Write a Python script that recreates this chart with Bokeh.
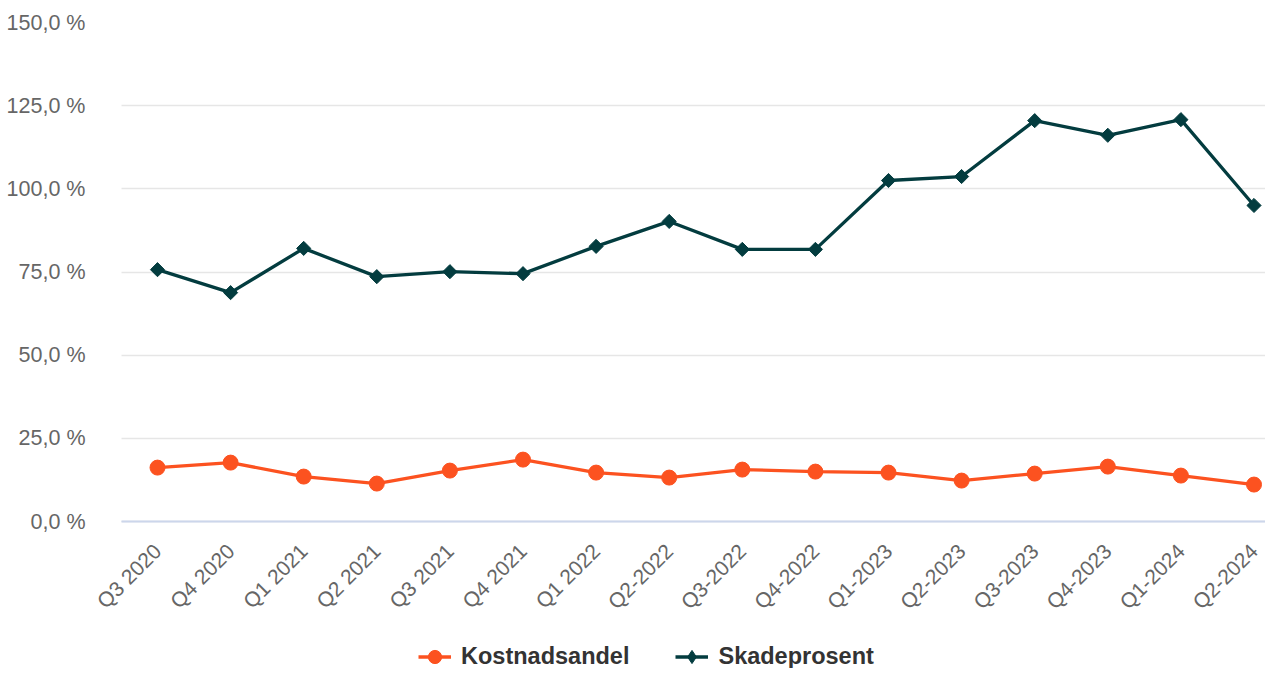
import math
from bokeh.plotting import figure
from bokeh.models import Range1d, FixedTicker, Legend, LegendItem
from bokeh.embed import file_html
from bokeh.resources import INLINE

quarters = ["Q3 2020", "Q4 2020", "Q1 2021", "Q2 2021", "Q3 2021", "Q4 2021",
            "Q1 2022", "Q2-2022", "Q3-2022", "Q4-2022", "Q1-2023", "Q2-2023",
            "Q3-2023", "Q4-2023", "Q1-2024", "Q2-2024"]
kostnadsandel = [16.2, 17.7, 13.5, 11.4, 15.3, 18.6, 14.7, 13.2, 15.6, 15.0,
                 14.7, 12.3, 14.4, 16.5, 13.8, 11.1]
skadeprosent = [75.7, 68.8, 82.1, 73.6, 75.1, 74.5, 82.7, 90.2, 81.8, 81.8,
                102.5, 103.7, 120.5, 116.1, 120.8, 95.0]
y_ticks = [0, 25, 50, 75, 100, 125, 150]
y_tick_labels = ["0,0 %", "25,0 %", "50,0 %", "75,0 %", "100,0 %", "125,0 %", "150,0 %"]

ORANGE = "#fc5220"
DARK = "#033c3f"
FONT = "Liberation Sans"

x = list(range(len(quarters)))

# layout geometry (pixels)
FRAME_LEFT, PLOT_LEFT, FRAME_RIGHT = 93, 121, 1265
FIRST_PT, STEP = 157, 73.1
TOP, ZERO, BOTTOM = 22, 521, 668
px_per_unit = (ZERO - TOP) / 150.0
y_bottom = -(BOTTOM - ZERO) / px_per_unit
x_left = (FRAME_LEFT - FIRST_PT) / STEP
x_right = (FRAME_RIGHT - FIRST_PT) / STEP
x_plot_left = (PLOT_LEFT - FIRST_PT) / STEP

p = figure(width=1265, height=668, output_backend="svg", toolbar_location=None,
           x_range=Range1d(x_left, x_right), y_range=Range1d(y_bottom, 150),
           min_border_left=FRAME_LEFT, min_border_right=0, min_border_top=TOP,
           min_border_bottom=0)
p.outline_line_color = None
p.background_fill_color = "white"
p.border_fill_color = "white"

# axes
p.xaxis.fixed_location = 0
p.xaxis.bounds = (x_plot_left, x_right)
p.xaxis.ticker = FixedTicker(ticks=x)
p.xaxis.major_label_overrides = {i: q for i, q in zip(x, quarters)}
p.xaxis.major_label_orientation = math.pi / 4
p.xaxis.major_label_text_font = FONT
p.xaxis.major_label_text_font_size = "21px"
p.xaxis.major_label_text_color = "#666666"
p.xaxis.axis_line_color = "#ccd6eb"
p.xaxis.axis_line_width = 2
p.xaxis.major_tick_line_color = None
p.xaxis.minor_tick_line_color = None
p.xaxis.major_label_standoff = 20

p.yaxis.ticker = FixedTicker(ticks=y_ticks)
p.yaxis.major_label_overrides = {t: l for t, l in zip(y_ticks, y_tick_labels)}
p.yaxis.major_label_text_font = FONT
p.yaxis.major_label_text_font_size = "21.5px"
p.yaxis.major_label_text_color = "#666666"
p.yaxis.axis_line_color = None
p.yaxis.major_tick_line_color = None
p.yaxis.minor_tick_line_color = None
p.yaxis.major_label_standoff = 2

p.xgrid.grid_line_color = None
p.ygrid.grid_line_color = "#e6e6e6"
p.ygrid.grid_line_width = 1.5
p.ygrid.cross_bounds = (x_plot_left, x_right)

# series
l1 = p.line(x, kostnadsandel, line_width=3.3, line_color=ORANGE)
s1 = p.scatter(x, kostnadsandel, marker="circle", size=15, fill_color=ORANGE, line_color=ORANGE)
l2 = p.line(x, skadeprosent, line_width=3.3, line_color=DARK)
# tiny diamonds hidden under the rotated squares; they give the legend its diamond key
s2_key = p.scatter(x, skadeprosent, marker="diamond", size=1, fill_color=DARK, line_color=DARK)
s2 = p.scatter(x, skadeprosent, marker="square", size=10, angle=math.pi / 4,
               fill_color=DARK, line_color=DARK)

legend = Legend(items=[LegendItem(label="Kostnadsandel", renderers=[l1, s1]),
                       LegendItem(label="Skadeprosent", renderers=[l2, s2_key])],
                orientation="horizontal", location=(418 - FRAME_LEFT, -5),
                border_line_color=None, background_fill_alpha=0,
                padding=0, margin=0, spacing=46, glyph_width=33, glyph_height=33,
                label_standoff=10, label_text_font=FONT,
                label_text_font_size="23.5px", label_text_font_style="bold",
                label_text_color="#333333")
p.add_layout(legend, "center")

open("out.html", "w").write(file_html(p, INLINE))
